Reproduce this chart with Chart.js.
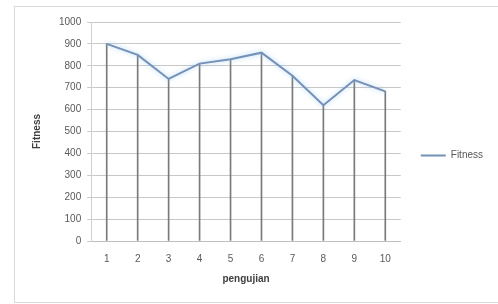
<!DOCTYPE html>
<html>
<head>
<meta charset="utf-8">
<script src="https://cdn.jsdelivr.net/npm/chart.js@4/dist/chart.umd.min.js"></script>
<style>
  body { margin: 0; background: #fff; }
  #wrap { position: absolute; left: 14px; top: 6px; width: 483px; height: 295px; border: 1px solid #d9d9d9; border-right: none; }
</style>
</head>
<body>
<div id="wrap"><canvas id="chart" width="483" height="295"></canvas></div>
<script>
// data
const pengujian = ['1', '2', '3', '4', '5', '6', '7', '8', '9', '10'];
const fitness = [900, 850, 740, 810, 830, 860, 755, 620, 735, 683];
const yTicks = [0, 100, 200, 300, 400, 500, 600, 700, 800, 900, 1000];

// soft glow under the line, like the office chart
const glow = {
    id: 'glow',
    beforeDatasetDraw: function(chart, args) {
        if (args.index === 0) {
            chart.ctx.save();
            chart.ctx.shadowColor = 'rgba(140, 195, 240, 0.7)';
            chart.ctx.shadowBlur = 5;
        }
    },
    afterDatasetDraw: function(chart, args) {
        if (args.index === 0) chart.ctx.restore();
    }
};

const tickFont = { family: 'Liberation Sans', size: 10 };

const ctx = document.getElementById('chart').getContext('2d');
const chart = new Chart(ctx, {
    data: {
        labels: pengujian,
        datasets: [{
            type: 'line',
            label: 'Fitness',
            data: fitness,
            borderColor: '#7391b9',
            backgroundColor: '#7391b9',
            borderWidth: 2,
            pointRadius: 0,
            tension: 0,
            order: 0
        }, {
            type: 'bar',
            label: 'drop',
            data: fitness,
            backgroundColor: '#7a7a7a',
            barThickness: 1,
            order: 1
        }]
    },
    options: {
        responsive: false,
        animation: false,
        layout: { padding: { left: 12, right: 5, top: 15, bottom: 13 } },
        plugins: {
            tooltip: { enabled: false },
            legend: {
                position: 'right',
                labels: {
                    filter: function(item) { return item.text === 'Fitness'; },
                    boxWidth: 25,
                    boxHeight: 0,
                    padding: 20,
                    color: '#595959',
                    font: tickFont
                }
            }
        },
        scales: {
            x: {
                offset: true,
                grid: { display: false },
                border: { color: '#bfbfbf' },
                ticks: { color: '#595959', font: tickFont, padding: 4 },
                title: { display: true, text: 'pengujian', color: '#404040', font: { family: 'Liberation Sans', size: 10, weight: 'bold' }, padding: { top: 4 } }
            },
            y: {
                min: 0,
                max: 1000,
                afterBuildTicks: function(axis) { axis.ticks = yTicks.map(v => ({ value: v })); },
                grid: { color: '#c8c8c8', tickLength: 4 },
                border: { color: '#d0d0d0' },
                ticks: { color: '#595959', font: tickFont, padding: 6, callback: function(v) { return String(v); } },
                title: { display: true, text: 'Fitness', color: '#404040', font: { family: 'Liberation Sans', size: 10, weight: 'bold' }, padding: { bottom: 10 } }
            }
        }
    },
    plugins: [glow]
});
</script>
</body>
</html>
